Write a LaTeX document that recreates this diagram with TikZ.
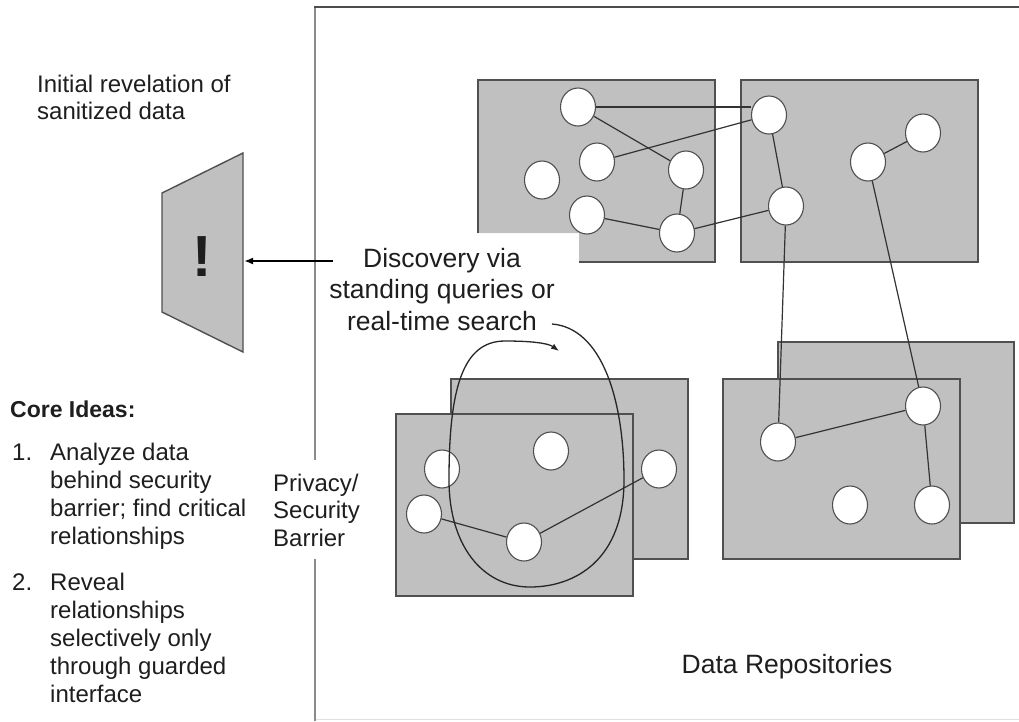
\documentclass[tikz,border=0pt]{standalone}
\usepackage{fontspec}
\setmainfont{Liberation Sans}
\usetikzlibrary{arrows.meta,shapes.geometric}
\definecolor{boxgray}{HTML}{C0C0C0}
\definecolor{edgegray}{HTML}{505050}
\definecolor{framegray}{HTML}{8A8A8A}
\definecolor{txt}{HTML}{1E1E1E}
\begin{document}
\begin{tikzpicture}[x=1pt,y=-1pt,
  repo/.style={fill=boxgray,draw=edgegray,line width=1.4pt},
  dn/.style={ellipse,draw=edgegray,fill=white,line width=1.1pt,minimum width=35pt,minimum height=38pt,inner sep=0pt},
  link/.style={draw=black!80,line width=1.2pt},
  lbl/.style={anchor=base west,inner sep=0pt,text=txt,font=\fontsize{24}{28}\selectfont},
  big/.style={anchor=base,inner sep=0pt,text=txt,font=\fontsize{26.5}{31}\selectfont}]
\useasboundingbox (0,0) rectangle (1019,721);

% frame
\draw[framegray,line width=2pt] (315,721) -- (315,559);
\draw[framegray,line width=2pt] (315,460) -- (315,8);
\draw[black!70,line width=1.6pt] (314,7) -- (1019,7);
\draw[black!12,line width=1pt] (316,719.5) -- (1019,719.5);

% repositories (top)
\fill[boxgray] (478,80) -- (715,80) -- (715,262) -- (579,262) -- (579,233) -- (478,233) -- cycle;
\draw[edgegray,line width=1.4pt] (579,262) -- (715,262) -- (715,80) -- (478,80) -- (478,233);
\draw[repo] (741,80) rectangle (978,262);
% repositories (bottom)
\draw[repo] (451,379) rectangle (688,559);
\draw[repo] (396,414) rectangle (633,596);
\draw[repo] (778,342) rectangle (1014,523);
\draw[repo] (723,379) rectangle (960,559);

% data nodes
\node[dn] (n1) at (578,107) {};
\node[dn] (n2) at (597,162) {};
\node[dn] (n3) at (542,180) {};
\node[dn] (n4) at (686,170) {};
\node[dn] (n5) at (587,215) {};
\node[dn] (n6) at (677,233) {};
\node[dn] (n7) at (769,115) {};
\node[dn] (n8) at (786,206) {};
\node[dn] (n9) at (868,162) {};
\node[dn] (n10) at (923,133) {};
\node[dn] (bl1) at (442,469) {};
\node[dn] (bl2) at (551,451) {};
\node[dn] (bl3) at (424,514) {};
\node[dn] (bl4) at (524,542) {};
\node[dn] (bl5) at (659,469) {};
\node[dn] (br1) at (778,442) {};
\node[dn] (br2) at (923,406) {};
\node[dn] (br3) at (850,505) {};
\node[dn] (br4) at (932,505) {};

% links
\draw[link] (n1.east) -- (n1.east -| n7.west);
\draw[link] (n1) -- (n4);
\draw[link] (n2) -- (n7);
\draw[link] (n4) -- (n6);
\draw[link] (n5) -- (n6);
\draw[link] (n6) -- (n8);
\draw[link] (n7) -- (n8);
\draw[link] (n9) -- (n10);
\draw[link] (n8) -- (br1);
\draw[link] (n9) -- (br2);
\draw[link] (br1) -- (br2);
\draw[link] (br2) -- (br4);
\draw[link] (bl3) -- (bl4);
\draw[link] (bl4) -- (bl5);

% guarded interface
\draw[fill=boxgray,draw=edgegray,line width=1.4pt] (162,193) -- (243,153) -- (243,352) -- (162,312) -- cycle;
\node[inner sep=0pt,text=txt,font=\fontsize{58}{60}\selectfont\bfseries] (excl) at (202,257) {!};
\coordinate (trapR) at (244,261);
\coordinate (arrS) at (333,261);
\draw[black,line width=2pt,-{Latex[length=9pt,width=7pt]}] (arrS) -- (trapR);

% discovery text and loop
\node[big] (d1) at (442,267) {Discovery via};
\node[big] (d2) at (442,298) {standing queries or};
\node[big] (d3) at (442,330) {real-time search};
\coordinate (qs) at (552,324);
\coordinate (qe) at (559,351);
\draw[black!85,line width=1.3pt,-{Latex[length=8pt,width=6pt]}] (qs)
  .. controls (602,328) and (624,400) .. (624,480)
  .. controls (624,560) and (575,587) .. (530,587)
  .. controls (482,587) and (449,545) .. (449,480)
  .. controls (449,390) and (462,341) .. (505,341)
  .. controls (530,341) and (548,343) .. (qe);

% labels
\node[lbl] (i1) at (37,92) {Initial revelation of};
\node[lbl] (i2) at (37,119) {sanitized data};
\node[lbl,font=\fontsize{23}{28}\selectfont\bfseries] (ci) at (10,417) {Core Ideas:};
\node[lbl] (k1) at (12,460) {1.};
\node[lbl] (a1) at (50,460) {Analyze data};
\node[lbl] (a2) at (50,488) {behind security};
\node[lbl] (a3) at (50,516) {barrier; find critical};
\node[lbl] (a4) at (50,544) {relationships};
\node[lbl] (k2) at (12,590) {2.};
\node[lbl] (b1) at (50,590) {Reveal};
\node[lbl] (b2) at (50,618) {relationships};
\node[lbl] (b3) at (50,646) {selectively only};
\node[lbl] (b4) at (50,674) {through guarded};
\node[lbl] (b5) at (50,702) {interface};
\node[lbl] (p1) at (273,491) {Privacy/};
\node[lbl] (p2) at (273,518) {Security};
\node[lbl] (p3) at (273,546) {Barrier};
\node[big] (dr) at (787,673) {Data Repositories};
\end{tikzpicture}
\end{document}
